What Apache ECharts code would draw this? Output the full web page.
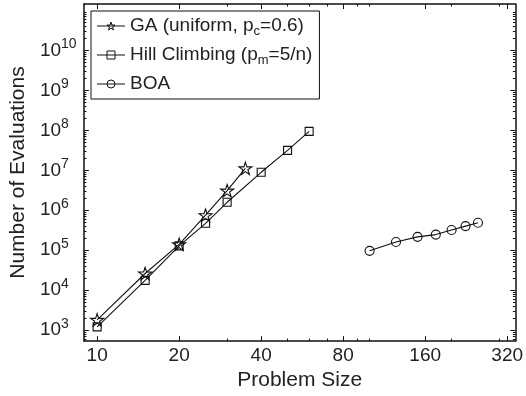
<!DOCTYPE html>
<html><head><meta charset="utf-8">
<script src="https://cdn.jsdelivr.net/npm/echarts@6/dist/echarts.min.js"></script>
<style>html,body{margin:0;padding:0;background:#fff}#c{width:526px;height:396px}</style>
</head><body><div id="c"></div>
<script>
// ---- data ----
const gaSizes = [10, 15, 20, 25, 30, 35];
const gaEvals = [1.8e3, 2.6e4, 1.4e5, 7.5e5, 3.1e6, 1.12e7];
const hcSizes = [10, 15, 20, 25, 30, 40, 50, 60];
const hcEvals = [1.2e3, 1.75e4, 1.28e5, 4.7e5, 1.58e6, 8.9e6, 3.15e7, 9.4e7];
const boaSizes = [100, 125, 150, 175, 200, 225, 250];
const boaEvals = [9.6e4, 1.6e5, 2.15e5, 2.45e5, 3.2e5, 4.0e5, 4.85e5];
const seriesNames = ['GA (uniform, pc=0.6)', 'Hill Climbing (pm=5/n)', 'BOA'];
const legendLabels = ['GA (uniform, p{sub|c}=0.6)', 'Hill Climbing (p{sub|m}=5/n)', 'BOA'];
const xTickLabels = [10, 20, 40, 80, 160, 320];
const xMinorTicks = [30, 50, 60, 70, 90, 100, 200, 300];
const yTickLabels = [1e3, 1e4, 1e5, 1e6, 1e7, 1e8, 1e9, 1e10];
const xTitle = 'Problem Size';
const yTitle = 'Number of Evaluations';

const X_MIN = 8.94, X_MAX = 343;
const Y_MIN = 527, Y_MAX = 1.46e11;
const yMinorTicks = [];
for (let d = 2; d <= 11; d++) {
  for (let k = 2; k <= 9; k++) {
    const v = k * Math.pow(10, d);
    if (v > Y_MIN && v < Y_MAX) yMinorTicks.push(v);
  }
}

const FONT = '"Liberation Sans", Arial, Helvetica, sans-serif';
const INK = '#111';
const TXT = '#222';
const CLEAR = 'rgba(255,255,255,0)';

function pairs(xs, ys) { return xs.map((x, i) => [x, ys[i]]); }

const starPath = 'path://M50,0 L61.2,34.5 L97.6,34.5 L68.2,55.9 L79.4,90.5 L50,69.1 L20.6,90.5 L31.8,55.9 L2.4,34.5 L38.8,34.5 Z';

function xAxisDef(pos, ticks, len, withLine, withLabel) {
  return {
    type: 'log', logBase: 2, min: X_MIN, max: X_MAX, position: pos,
    axisLine: { show: withLine, onZero: false, lineStyle: { color: INK, width: 1.5 } },
    axisTick: { show: true, inside: true, length: len, customValues: ticks, lineStyle: { color: INK, width: 1 } },
    axisLabel: withLabel ? {
      show: true, customValues: ticks, margin: 5, fontSize: 19, color: TXT, fontFamily: FONT,
      formatter: v => String(Math.round(v))
    } : { show: false },
    splitLine: { show: false }, minorTick: { show: false },
    name: withLabel ? xTitle : '', nameLocation: 'middle', nameGap: 26,
    nameTextStyle: { fontSize: 21, color: TXT, fontFamily: FONT }
  };
}
function yAxisDef(pos, ticks, len, withLine, withLabel) {
  return {
    type: 'log', logBase: 10, min: Y_MIN, max: Y_MAX, position: pos,
    axisLine: { show: withLine, onZero: false, lineStyle: { color: INK, width: 1.5 } },
    axisTick: { show: true, inside: true, length: len, customValues: ticks, lineStyle: { color: INK, width: 1 } },
    axisLabel: withLabel ? {
      show: true, customValues: ticks, margin: 44, align: 'left', color: TXT, fontFamily: FONT,
      formatter: v => '{b|10}{s|' + Math.round(Math.log10(v)) + '}',
      rich: {
        b: { fontSize: 19, lineHeight: 26, color: TXT, fontFamily: FONT },
        s: { fontSize: 14, lineHeight: 13, verticalAlign: 'top', color: TXT, fontFamily: FONT }
      }
    } : { show: false },
    splitLine: { show: false }, minorTick: { show: false },
    name: withLabel ? yTitle : '', nameLocation: 'middle', nameGap: 51,
    nameTextStyle: { fontSize: 21, color: TXT, fontFamily: FONT }
  };
}

function lineSeries(name, data, symbol, size) {
  return {
    name: name, type: 'line', data: data, xAxisIndex: 0, yAxisIndex: 0,
    symbol: symbol, symbolSize: size, symbolKeepAspect: true, showAllSymbol: true,
    lineStyle: { color: INK, width: 1.1 },
    itemStyle: { color: CLEAR, borderColor: INK, borderWidth: 1.1 },
    emphasis: { disabled: true }
  };
}

const chart = echarts.init(document.getElementById('c'), null, { renderer: 'canvas' });
chart.setOption({
  animation: false,
  backgroundColor: '#fff',
  grid: { left: 81.7, right: 10.3, top: 4, bottom: 51.5, containLabel: false },
  legend: {
    orient: 'vertical', left: 91, top: 11,
    padding: [3, 7, 3, 5.5], itemGap: 5, itemWidth: 28, itemHeight: 10,
    borderColor: INK, borderWidth: 1, backgroundColor: '#fff', borderRadius: 0,
    data: seriesNames,
    itemStyle: { color: CLEAR, borderColor: INK, borderWidth: 1 },
    lineStyle: { color: INK, width: 1 },
    formatter: name => legendLabels[seriesNames.indexOf(name)],
    textStyle: {
      fontSize: 19, lineHeight: 24, color: TXT, fontFamily: FONT,
      rich: { sub: { fontSize: 13, lineHeight: 11, verticalAlign: 'bottom', color: TXT, fontFamily: FONT } }
    }
  },
  xAxis: [
    xAxisDef('bottom', xTickLabels, 5, true, true),
    xAxisDef('top', xTickLabels, 5, true, false),
    xAxisDef('bottom', xMinorTicks, 2.5, false, false),
    xAxisDef('top', xMinorTicks, 2.5, false, false)
  ],
  yAxis: [
    yAxisDef('left', yTickLabels, 5, true, true),
    yAxisDef('right', yTickLabels, 5, true, false),
    yAxisDef('left', yMinorTicks, 2.5, false, false),
    yAxisDef('right', yMinorTicks, 2.5, false, false)
  ],
  series: [
    lineSeries(seriesNames[0], pairs(gaSizes, gaEvals), starPath, 13),
    lineSeries(seriesNames[1], pairs(hcSizes, hcEvals), 'rect', 8),
    lineSeries(seriesNames[2], pairs(boaSizes, boaEvals), 'circle', 9)
  ]
});
</script></body></html>
